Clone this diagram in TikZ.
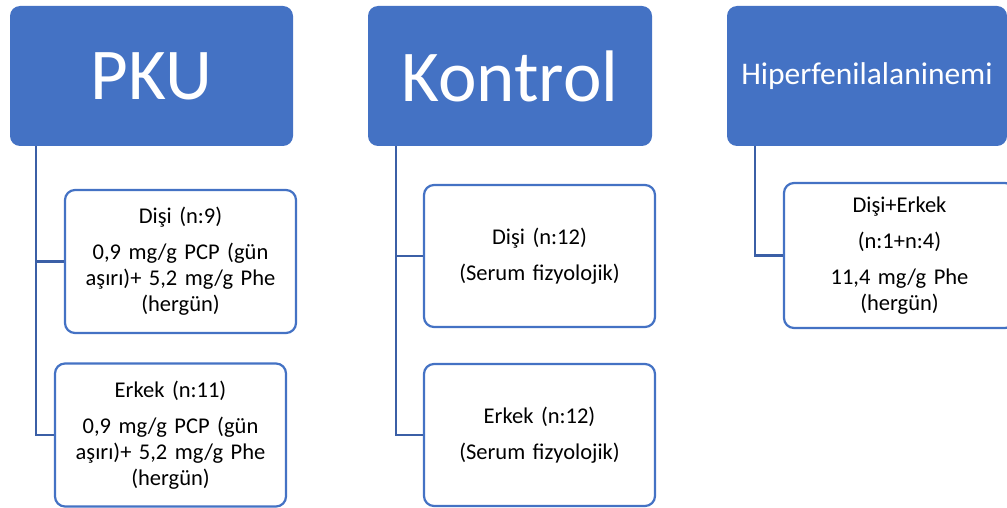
\documentclass[tikz,border=0pt]{standalone}
\usepackage{fontspec}
\setmainfont{Carlito}[WordSpace=0.75]
\definecolor{accent}{HTML}{4472C4}
\definecolor{linkblue}{HTML}{3B5FA6}
\begin{document}
\begin{tikzpicture}[x=1pt,y=-1pt,
  header/.style={draw=none, fill=accent, rounded corners=10pt, text=white,
    minimum width=#1, minimum height=140pt, inner sep=0pt},
  member/.style={draw=accent, line width=2.2pt, fill=white, rounded corners=10pt,
    minimum width=231pt, minimum height=143pt, inner sep=0pt, align=center,
    text width=225pt, font=\fontsize{22.5}{26}\selectfont, text=black},
  link/.style={draw=linkblue, line width=2.4pt}]
\useasboundingbox (0,0) rectangle (1007,508);

% group headers
\node[header=283pt, font=\fontsize{73}{80}\selectfont] (pku) at (151.5,76) {PKU};
\node[header=284pt, font=\fontsize{73}{80}\selectfont] (kon) at (510,76) {Kontrol};
\node[header=280pt, font=\fontsize{31.5}{34}\selectfont] (hip) at (867,76) {Hiperfenilalaninemi};

% PKU subgroups
\node[member] (p1) at (180.5,261.5) {Dişi (n:9)\\[10pt]0,9 mg/g PCP (gün\\aşırı)+ 5,2 mg/g Phe\\(hergün)};
\node[member] (p2) at (170.5,435) {Erkek (n:11)\\[10pt]0,9 mg/g PCP (gün\\aşırı)+ 5,2 mg/g Phe\\(hergün)};

% control subgroups
\node[member, minimum height=142pt] (k1) at (539.5,256) {Dişi (n:12)\\[10pt](Serum fizyolojik)};
\node[member, minimum height=142pt] (k2) at (539.5,435) {Erkek (n:12)\\[10pt](Serum fizyolojik)};

% hyperphenylalaninemia subgroup
\node[member, minimum height=145pt] (h1) at (899.5,255.5) {Dişi+Erkek\\[10pt](n:1+n:4)\\[10pt]11,4 mg/g Phe\\(hergün)};

% connectors
\draw[link] ([xshift=26pt]pku.south west) |- (p1.west);
\draw[link] ([xshift=26pt]pku.south west) |- (p2.west);
\draw[link] ([xshift=28pt]kon.south west) |- (k1.west);
\draw[link] ([xshift=28pt]kon.south west) |- (k2.west);
\draw[link] ([xshift=28pt]hip.south west) |- (h1.west);
\end{tikzpicture}
\end{document}
